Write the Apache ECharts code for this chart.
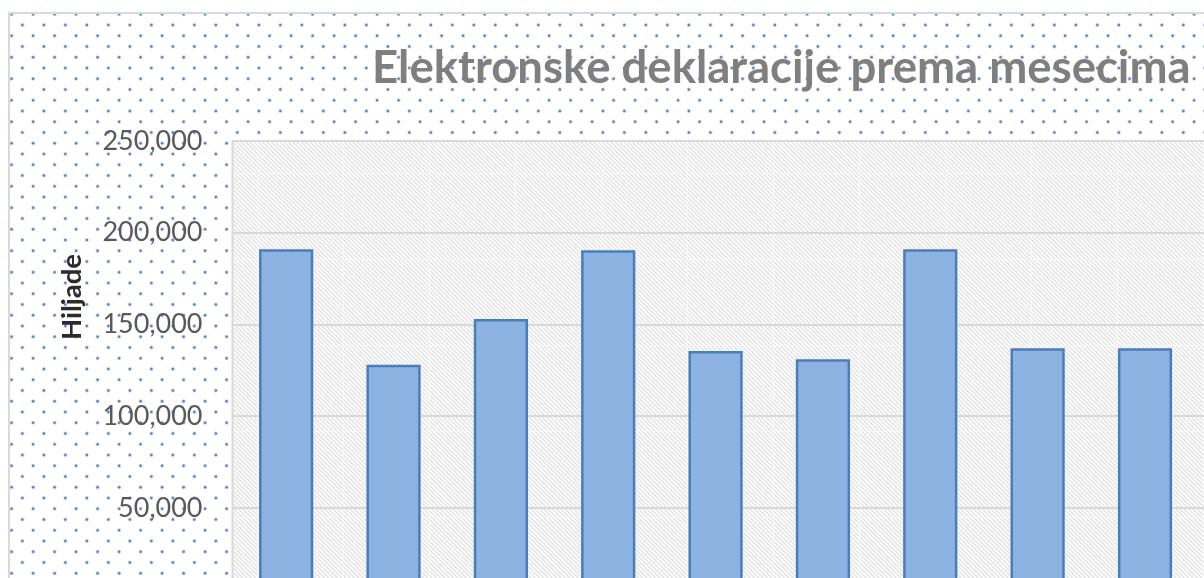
<!DOCTYPE html>
<html>
<head>
<meta charset="utf-8">
<script src="https://cdn.jsdelivr.net/npm/echarts@6/dist/echarts.min.js"></script>
<style>
  html, body { margin: 0; padding: 0; overflow: hidden; background: #fff; }
  #chart {
    position: absolute;
    left: 8px;
    top: 12px;
    width: 1560px;
    height: 660px;
    border: 2px solid #d9d9d9;
  }
</style>
</head>
<body>
<div id="chart"></div>
<script>
// podaci
const months = ['Januar', 'Februar', 'Mart', 'April', 'Maj', 'Jun', 'Jul', 'Avgust', 'Septembar', 'Oktobar', 'Novembar', 'Decembar']
// poslednja tri meseca su van vidljivog dela slike
const declarations = [191000, 128000, 153000, 190500, 135500, 131000, 191000, 137000, 137000, null, null, null]
const yTicks = [0, 50000, 100000, 150000, 200000, 250000]

// pozadina sa tackicama
const makeDots = () => {
  const c = document.createElement('canvas')
  c.width = 86
  c.height = 86
  const ctx = c.getContext('2d')
  const p = 21.5
  for (let i = -1; i < 5; i++) {
    for (let j = -1; j < 5; j++) {
      const pts = [[1.6 + i * p, 0.3 + j * p], [12.35 + i * p, 11.05 + j * p]]
      pts.forEach(([x, y]) => {
        ctx.fillStyle = 'rgba(90,140,215,0.35)'
        ctx.beginPath()
        ctx.arc(x, y, 2, 0, Math.PI * 2)
        ctx.fill()
        ctx.fillStyle = '#4f86d0'
        ctx.beginPath()
        ctx.arc(x, y, 1.2, 0, Math.PI * 2)
        ctx.fill()
      })
    }
  }
  return c
}

// srafura za plot area
const makeHatch = () => {
  const c = document.createElement('canvas')
  c.width = 86
  c.height = 86
  const ctx = c.getContext('2d')
  ctx.fillStyle = '#fff'
  ctx.fillRect(0, 0, 86, 86)
  ctx.strokeStyle = '#e0e0e0'
  ctx.lineWidth = 1.3
  const p = 4.3
  for (let k = -25; k < 45; k++) {
    ctx.beginPath()
    ctx.moveTo(k * p - 86, -86)
    ctx.lineTo(k * p + 172, 172)
    ctx.stroke()
  }
  ctx.fillStyle = 'rgba(255,255,255,0.5)'
  ctx.fillRect(75, 0, 1, 86)
  ctx.fillRect(0, 73, 86, 1)
  return c
}

const chart = echarts.init(document.getElementById('chart'))

chart.setOption({
  animation: false,
  backgroundColor: { image: makeDots(), repeat: 'repeat' },
  title: {
    text: 'Elektronske deklaracije prema mesecima',
    left: 362,
    top: 31,
    padding: 0,
    textStyle: {
      fontFamily: 'Lato',
      fontWeight: 'bold',
      fontSize: 45.5,
      color: '#7f7f7f',
    },
  },
  graphic: [
    {
      type: 'text',
      x: 62,
      y: 283,
      rotation: Math.PI / 2,
      style: {
        text: 'Hiljade',
        fontFamily: 'Lato',
        fontWeight: 'bold',
        fontSize: 27.5,
        fill: '#2b2b2b',
        align: 'center',
        verticalAlign: 'middle',
      },
    },
  ],
  grid: {
    left: 222.5,
    top: 127,
    width: 1288.2,
    height: 458.7,
    show: true,
    borderColor: '#d9d9d9',
    borderWidth: 2,
    backgroundColor: { image: makeHatch(), repeat: 'repeat' },
  },
  xAxis: {
    type: 'category',
    data: months,
    axisLine: { lineStyle: { color: '#d9d9d9', width: 2 } },
    axisTick: { show: false },
    axisLabel: { fontFamily: 'Lato', fontSize: 27, color: '#595959' },
  },
  yAxis: {
    type: 'value',
    min: yTicks[0],
    max: yTicks[yTicks.length - 1],
    interval: 50000,
    axisLine: { show: false },
    axisTick: { show: false },
    splitLine: { lineStyle: { color: '#d9d9d9', width: 2 } },
    axisLabel: {
      margin: 30,
      fontFamily: 'Lato',
      fontSize: 27,
      color: '#595959',
      formatter: (v) => v.toLocaleString('en-US'),
    },
  },
  series: [
    {
      type: 'bar',
      data: declarations,
      barWidth: '50.5%',
      itemStyle: {
        color: '#8db3e2',
        borderColor: '#4a7ebb',
        borderWidth: 2.5,
      },
    },
  ],
})
</script>
</body>
</html>
